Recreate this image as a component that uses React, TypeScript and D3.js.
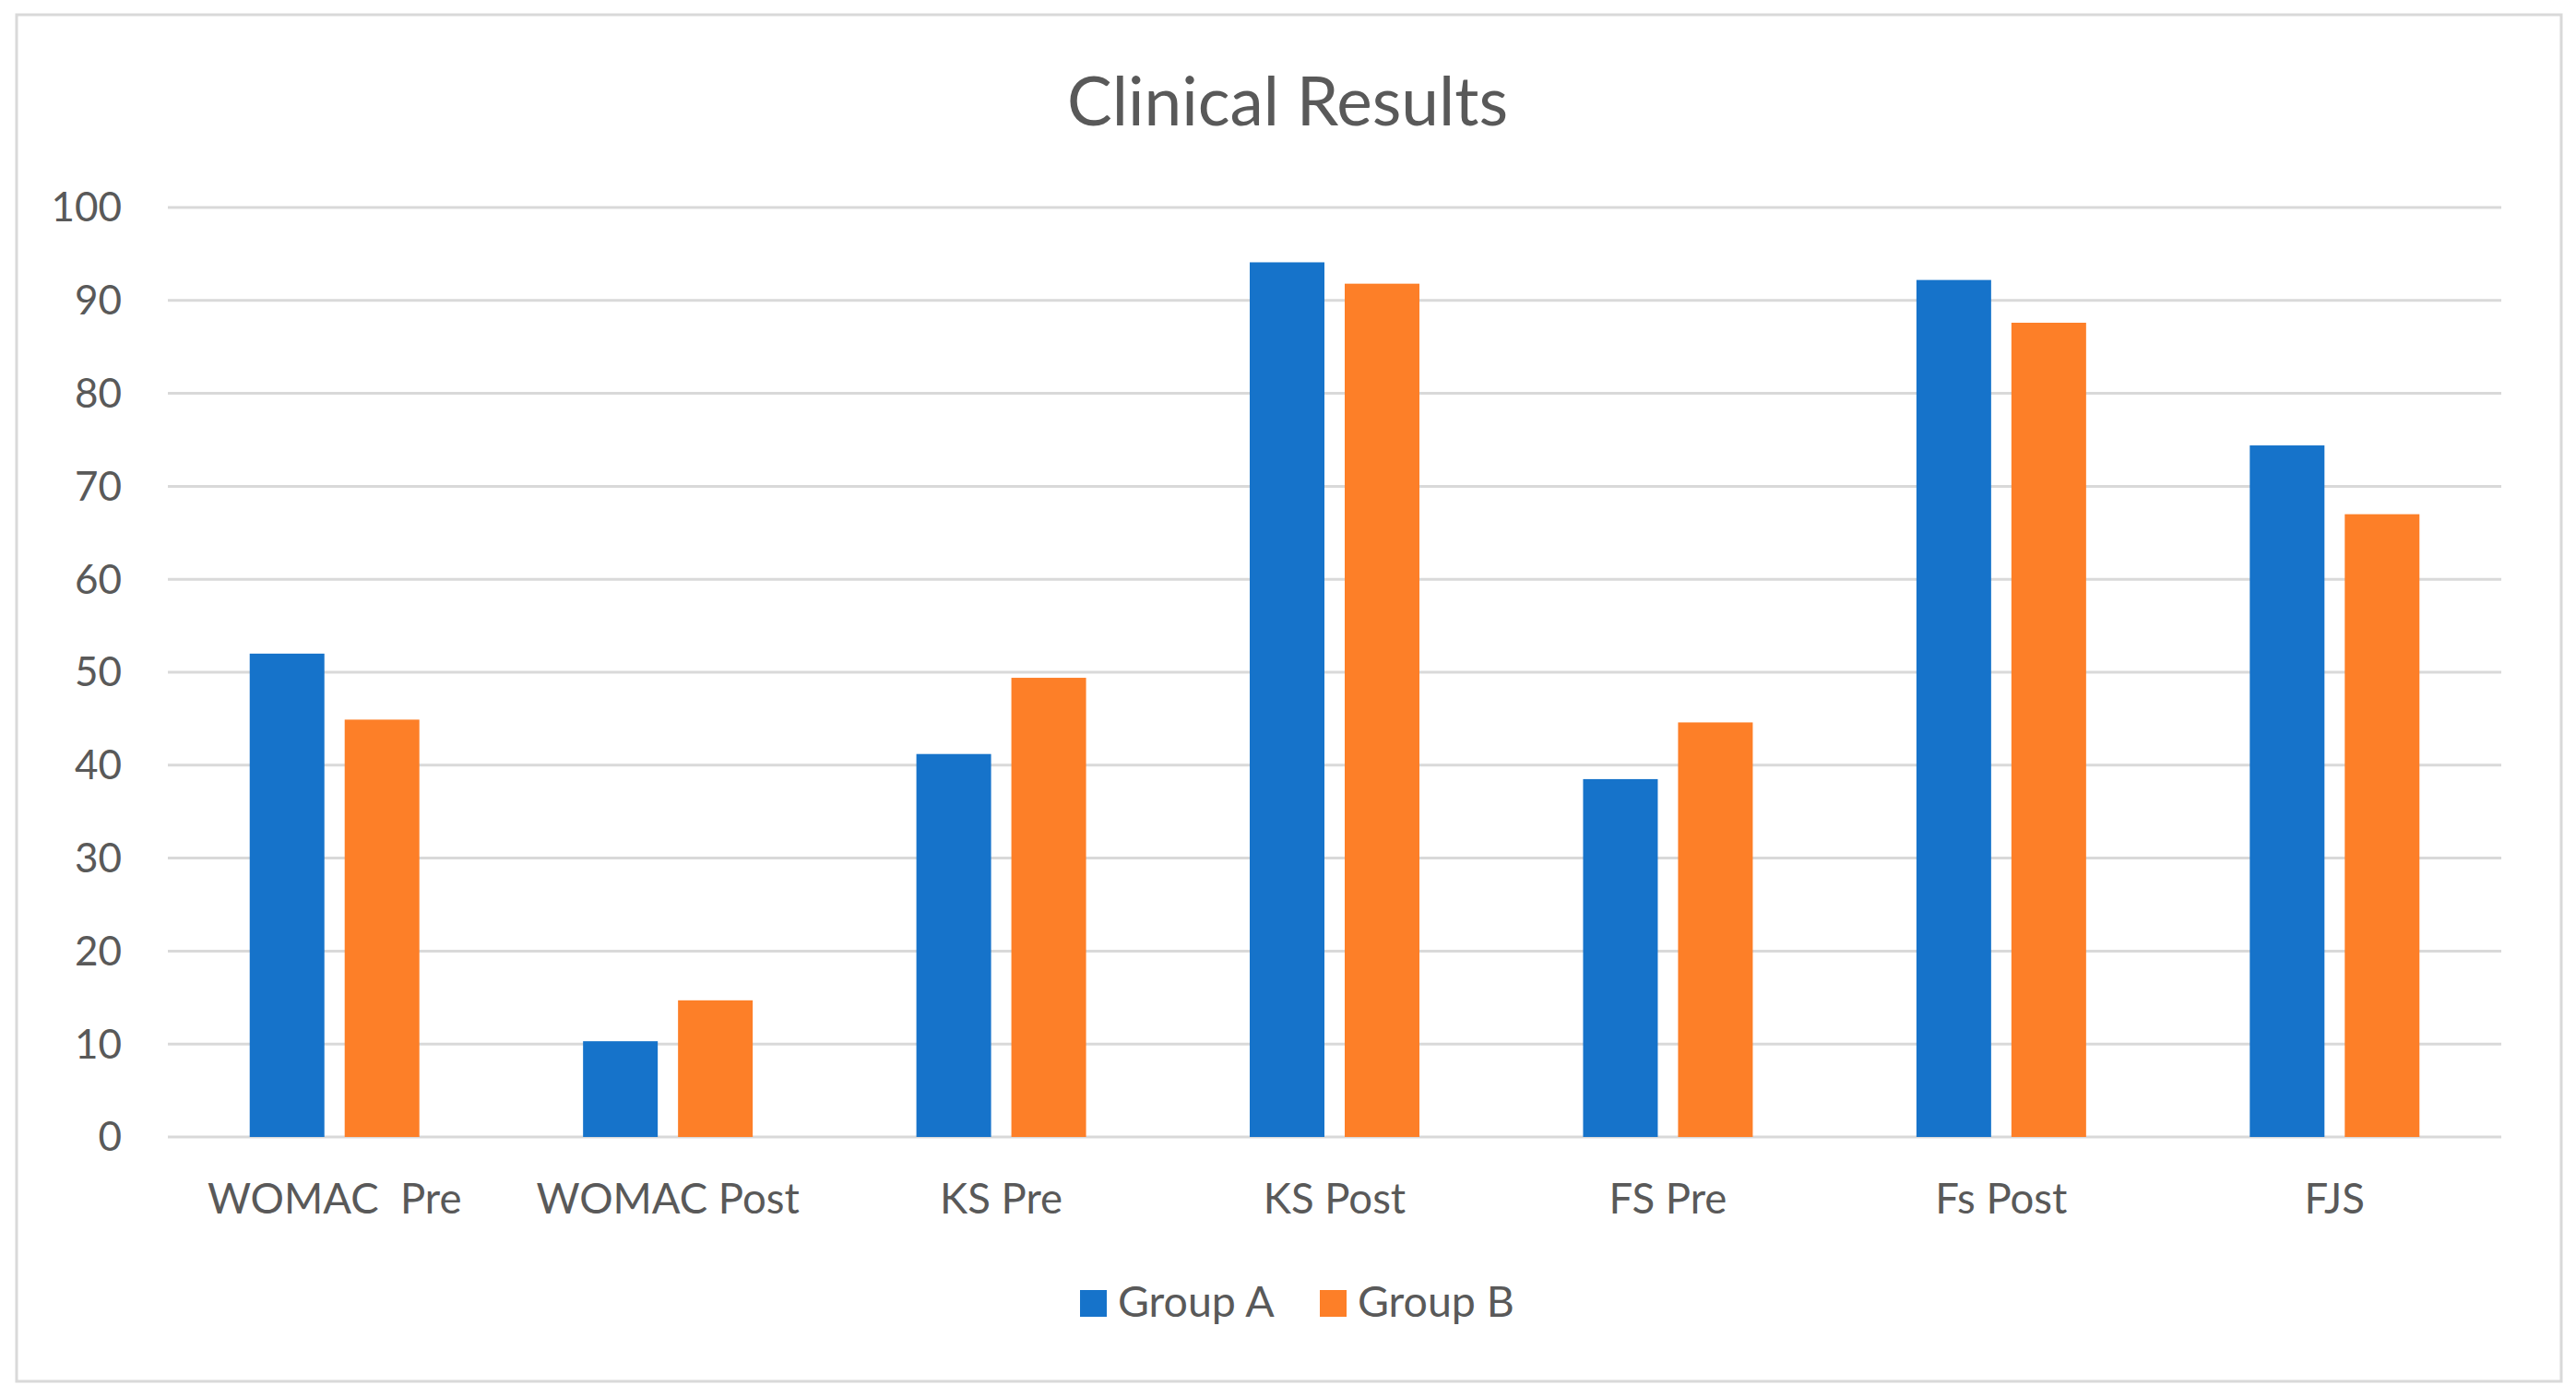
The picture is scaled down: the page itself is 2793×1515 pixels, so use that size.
import * as d3 from "d3";

const categories = ["WOMAC  Pre", "WOMAC Post", "KS Pre", "KS Post", "FS Pre", "Fs Post", "FJS"];
const groups = ["Group A", "Group B"];
const groupA = [52.0, 10.3, 41.2, 94.1, 38.5, 92.2, 74.4];
const groupB = [44.9, 14.7, 49.4, 91.8, 44.6, 87.6, 67.0];
const yTicks = [0, 10, 20, 30, 40, 50, 60, 70, 80, 90, 100];
const colors = ["#1673CA", "#FD7F28"];

const W = 2793;
const H = 1515;
const margin = { left: 182, right: 2712, top: 225, bottom: 1233 };
const font = "Lato, 'Open Sans', sans-serif";
const textColor = "#595959";

const App = () => {
  const x0 = d3
    .scaleBand<string>()
    .domain(categories)
    .range([margin.left, margin.right])
    .paddingInner(0.491)
    .paddingOuter(0.2455);

  const x1 = d3
    .scaleBand<string>()
    .domain(groups)
    .range([0, x0.bandwidth()])
    .paddingInner(0.2136);

  const y = d3.scaleLinear().domain([0, 100]).range([margin.bottom, margin.top]);

  const series = [groupA, groupB];

  return (
    <svg
      width={W}
      height={H}
      style={{ position: "absolute", left: 0, top: 0, background: "#fff" }}
    >
      <rect x={18} y={16} width={2759} height={1482} fill="#fff" stroke="#D9D9D9" strokeWidth={3} />

      <text
        x={1396}
        y={136}
        textAnchor="middle"
        fontFamily={font}
        fontSize={73}
        fill={textColor}
      >
        Clinical Results
      </text>

      {yTicks.map((t) => (
        <g key={t}>
          <line
            x1={margin.left}
            x2={margin.right}
            y1={y(t)}
            y2={y(t)}
            stroke="#D9D9D9"
            strokeWidth={3}
          />
          <text
            x={132}
            y={y(t)}
            dy="0.35em"
            textAnchor="end"
            fontFamily={font}
            fontSize={44}
            fill={textColor}
          >
            {t}
          </text>
        </g>
      ))}

      {categories.map((c, i) => (
        <g key={c} transform={`translate(${x0(c)},0)`}>
          {groups.map((g, j) => (
            <rect
              key={g}
              x={x1(g)}
              y={y(series[j][i])}
              width={x1.bandwidth()}
              height={y(0) - y(series[j][i])}
              fill={colors[j]}
            />
          ))}
          <text
            x={x0.bandwidth() / 2}
            y={1316}
            textAnchor="middle"
            fontFamily={font}
            fontSize={45.5}
            fill={textColor}
            style={{ whiteSpace: "pre" }}
          >
            {c}
          </text>
        </g>
      ))}

      {groups.map((g, j) => {
        const lx = [1171, 1431][j];
        return (
          <g key={g}>
            <rect x={lx} y={1399} width={29} height={29} fill={colors[j]} />
            <text
              x={lx + 41}
              y={1428}
              fontFamily={font}
              fontSize={46.5}
              fill={textColor}
            >
              {g}
            </text>
          </g>
        );
      })}
    </svg>
  );
};

export default App;
